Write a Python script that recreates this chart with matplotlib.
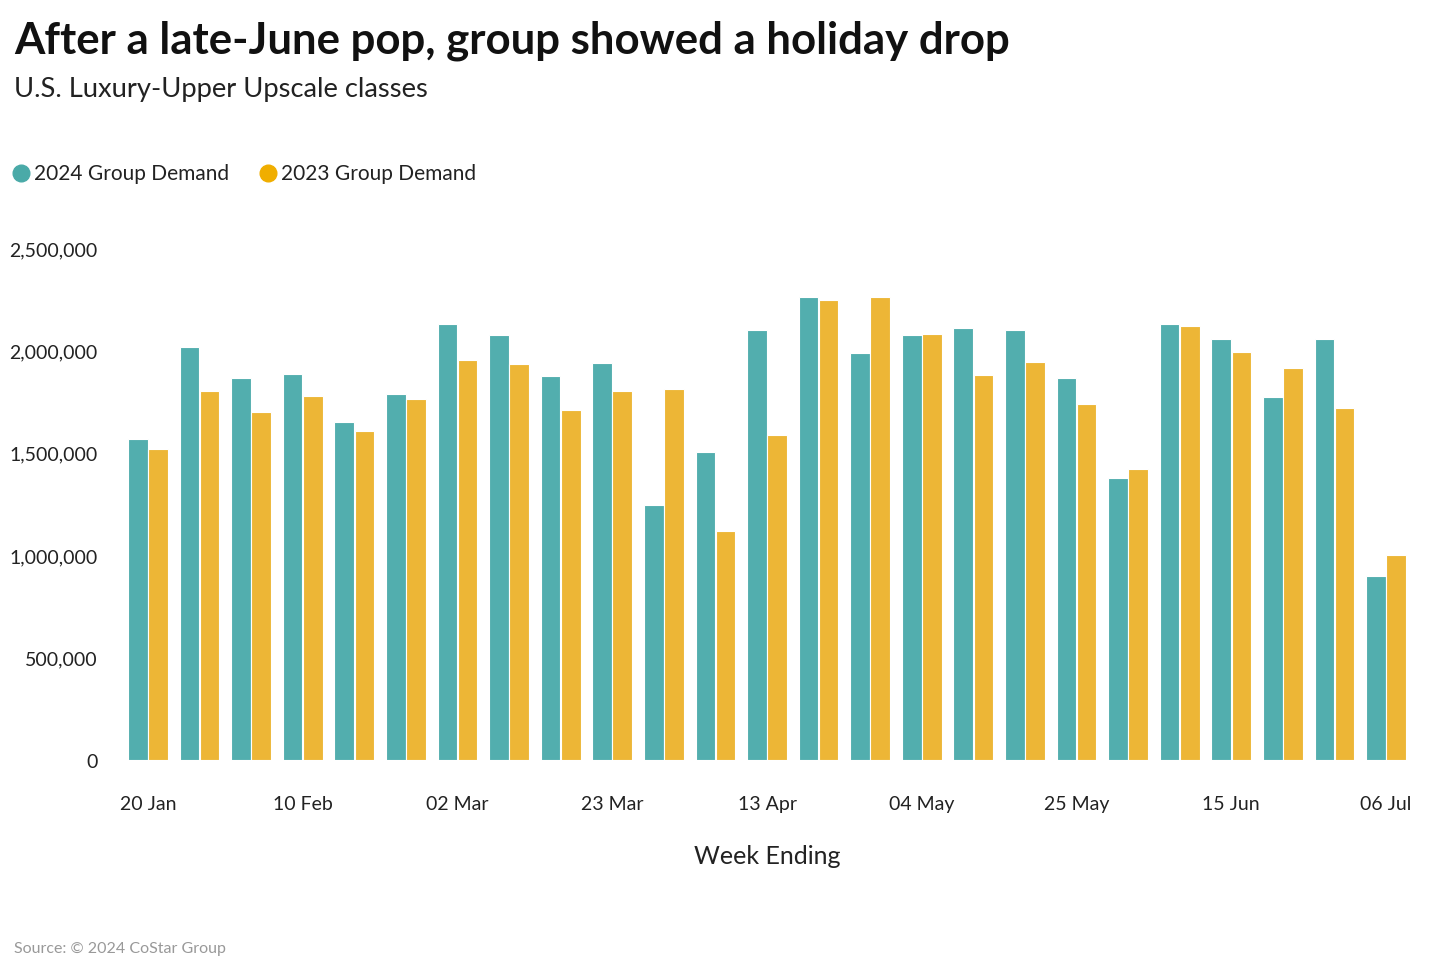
import matplotlib
matplotlib.use("Agg")
import matplotlib.pyplot as plt
from matplotlib.lines import Line2D
import numpy as np

weeks = ["20 Jan", "27 Jan", "03 Feb", "10 Feb", "17 Feb", "24 Feb", "02 Mar", "09 Mar",
         "16 Mar", "23 Mar", "30 Mar", "06 Apr", "13 Apr", "20 Apr", "27 Apr", "04 May",
         "11 May", "18 May", "25 May", "01 Jun", "08 Jun", "15 Jun", "22 Jun", "29 Jun", "06 Jul"]
demand_2024 = [1565000, 2018000, 1866000, 1886000, 1652000, 1789000, 2130000, 2077000,
               1876000, 1940000, 1247000, 1505000, 2101000, 2262000, 1988000, 2077000,
               2110000, 2100000, 1866000, 1378000, 2130000, 2054000, 1773000, 2058000, 898000]
demand_2023 = [1520000, 1803000, 1700000, 1778000, 1607000, 1764000, 1955000, 1935000,
               1710000, 1802000, 1813000, 1118000, 1588000, 2247000, 2262000, 2082000,
               1881000, 1945000, 1740000, 1421000, 2120000, 1994000, 1916000, 1720000, 1002000]
yticks = [0, 500000, 1000000, 1500000, 2000000, 2500000]

plt.rcParams['font.family'] = ['Lato', 'DejaVu Sans']

c24 = "#52AEAE"
c23 = "#EDB636"

fig = plt.figure(figsize=(14.34, 9.70), dpi=100)
ax = fig.add_axes([117/1434, (970-761)/970, (1417-117)/1434, (761-249)/970])

x = np.arange(len(weeks))
w = 0.38
ax.bar(x - w/2 - 0.005, demand_2024, width=w, color=c24, edgecolor="white", linewidth=0.8)
ax.bar(x + w/2 + 0.005, demand_2023, width=w, color=c23, edgecolor="white", linewidth=0.8)

ax.set_xlim(-0.6, len(weeks) - 0.4)
ax.set_ylim(0, 2500000)
ax.set_yticks(yticks)
ax.set_yticklabels([f"{v:,}" for v in yticks], fontsize=14, color="#222222")
ax.set_xticks(x[::3])
ax.set_xticklabels(weeks[::3], fontsize=14, color="#222222")
ax.tick_params(axis="both", length=0)
ax.tick_params(axis="x", pad=25)
ax.tick_params(axis="y", pad=14)
for s in ax.spines.values():
    s.set_visible(False)

ax.set_xlabel("Week Ending", fontsize=18, color="#222222", labelpad=23)

fig.text(14/1434, 1 - 41/970, "After a late-June pop, group showed a holiday drop",
         fontsize=31.5, fontweight="bold", va="center", ha="left", color="#111111")
fig.text(14/1434, 1 - 89/970, "U.S. Luxury-Upper Upscale classes",
         fontsize=19.7, va="center", ha="left", color="#222222")

# legend
ly = 1 - 174/970
fig.add_artist(Line2D([21/1434], [ly], marker="o", markersize=12, color="#4AAAA8",
                      linestyle="none", transform=fig.transFigure))
fig.text(34/1434, ly, "2024 Group Demand", fontsize=15, va="center", ha="left", color="#222222")
fig.add_artist(Line2D([268/1434], [ly], marker="o", markersize=12, color="#F0AE00",
                      linestyle="none", transform=fig.transFigure))
fig.text(281/1434, ly, "2023 Group Demand", fontsize=15, va="center", ha="left", color="#222222")

fig.text(14/1434, 1 - 949/970, "Source: © 2024 CoStar Group", fontsize=11.5,
         va="center", ha="left", color="#999999")

fig.savefig("out.png", dpi=100)
